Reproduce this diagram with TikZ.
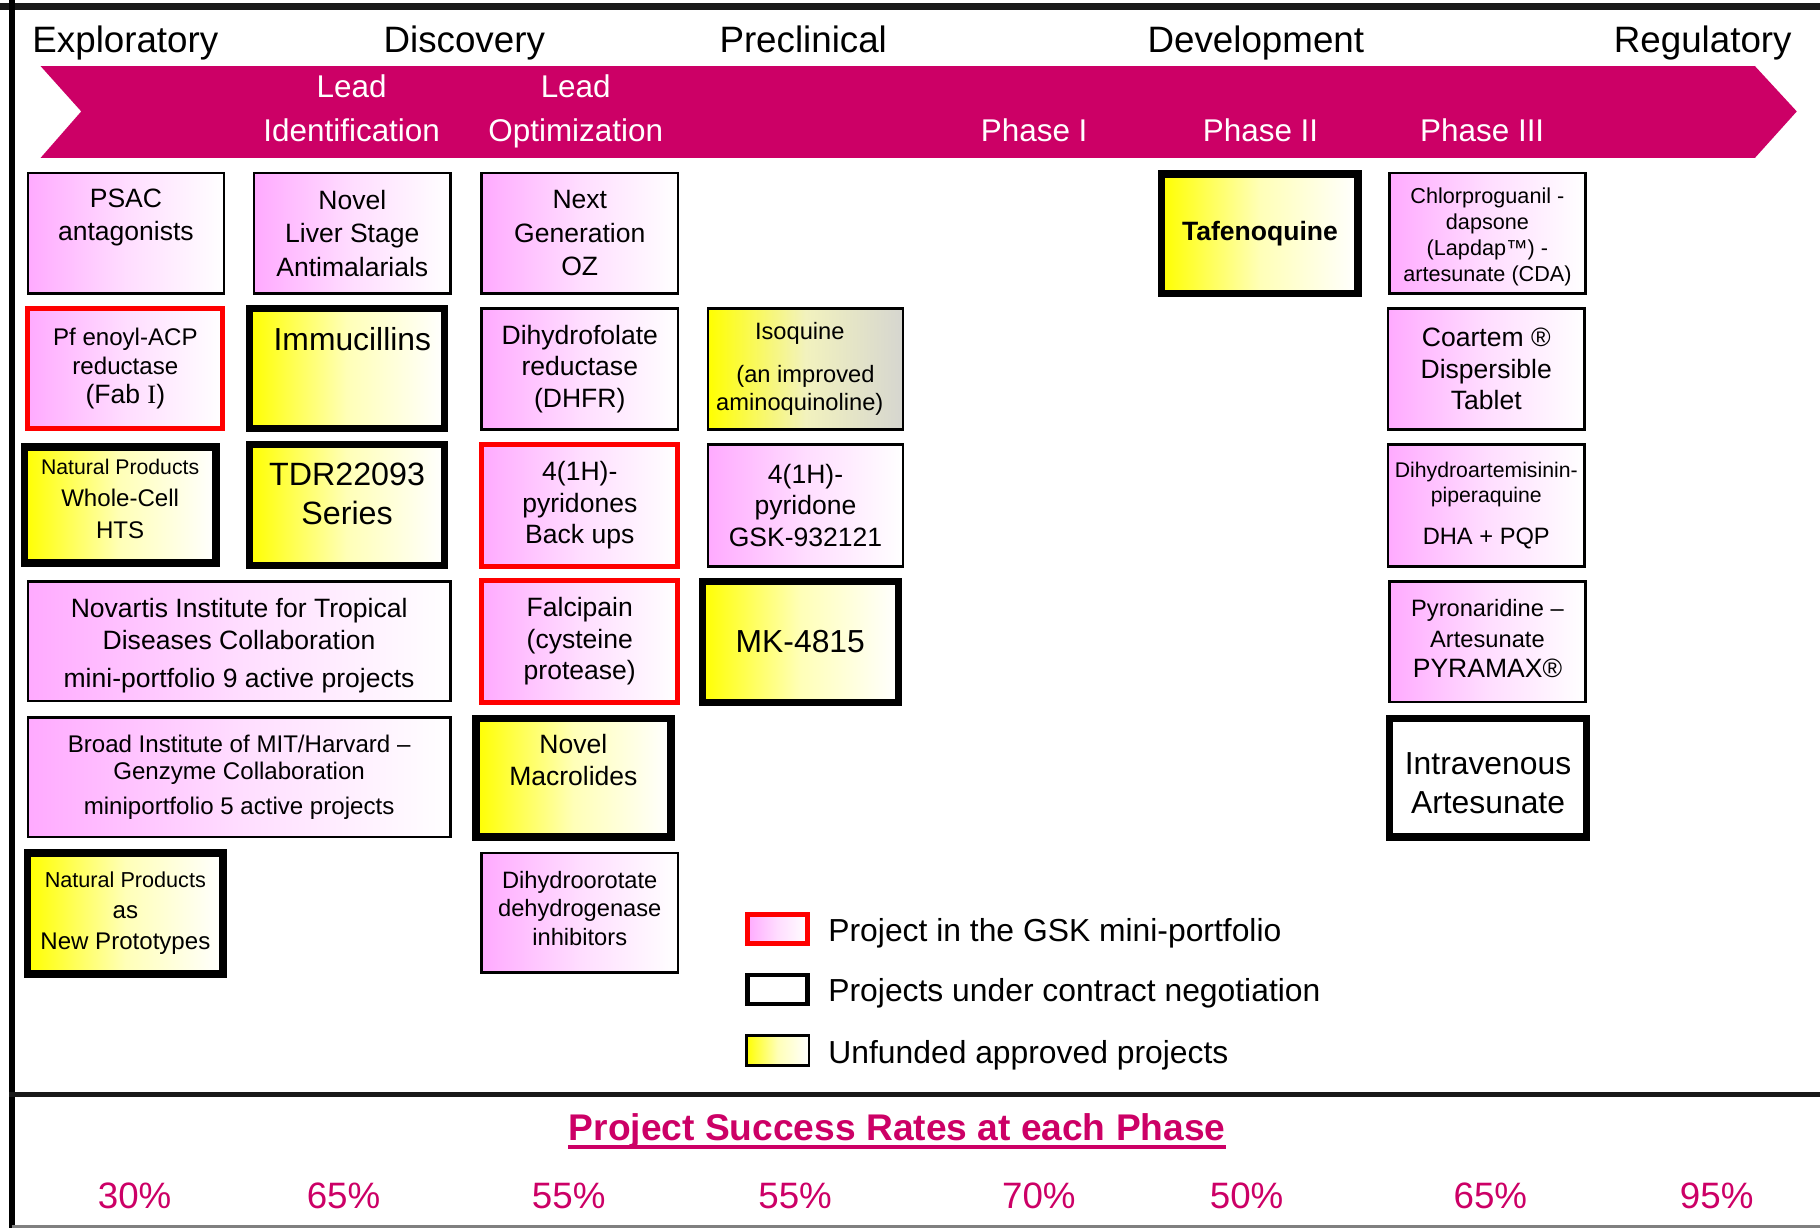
\documentclass[tikz,border=0pt]{standalone}
\usepackage{fontspec}
\setmainfont{Liberation Sans}
\newfontfamily\timesfont{Liberation Serif}
\definecolor{chevmag}{RGB}{204,0,102}
\definecolor{boxpink}{RGB}{255,170,255}
\definecolor{boxyellow}{RGB}{255,255,0}
\definecolor{isomid}{RGB}{242,242,190}
\definecolor{isogray}{RGB}{214,214,208}
\definecolor{gskred}{RGB}{255,0,0}
\newcommand{\setfs}[2]{\fontsize{#1}{#2}\selectfont}
\tikzset{
  projbox/.style={draw, line width=0.6pt, align=center, inner sep=0pt,
    minimum width=1.69cm, minimum height=1.04cm},
  pinkfill/.style={left color=boxpink, right color=white, middle color=boxpink!40!white},
  yellowfill/.style={left color=boxyellow, right color=white, middle color=boxyellow!28!white},
  gskline/.style={draw=gskred, line width=1.2pt},
  negline/.style={draw=black, line width=1.8pt},
  phasetext/.style={inner sep=0pt, anchor=base, font=\setfs{9}{11}},
  chevtext/.style={inner sep=0pt, text=white, font=\setfs{7.7}{10.8}},
  ratetext/.style={inner sep=0pt, text=chevmag, font=\setfs{9}{11}},
  legtext/.style={inner sep=0pt, anchor=base west, font=\setfs{7.8}{9}}
}
\begin{document}
\begin{tikzpicture}[x=0.01cm, y=-0.01cm]
\useasboundingbox (0,0) rectangle (1568,1058);
% frame
\draw[line width=1.8pt, black!90] (0,5.5) -- (1568,5.5);
\draw[line width=1.5pt] (10,0) -- (10,1058);
\draw[line width=1.3pt, black!90] (8,943) -- (1568,943);
\draw[line width=0.6pt, gray] (10,1056.5) -- (1568,1056.5);

% stage headings
\node[phasetext] (explo) at (108,45) {Exploratory};
\node[phasetext] (disco) at (400,45) {Discovery};
\node[phasetext] (precl) at (692,45) {Preclinical};
\node[phasetext] (devel) at (1082,45) {Development};
\node[phasetext] (regul) at (1467,45) {Regulatory};

% chevron
\fill[chevmag] (35,57) -- (1512,57) -- (1548,96) -- (1512,136) -- (35,136) -- (70,96) -- cycle;
\node[chevtext, align=center] (leadid) at (303,93) {Lead\\Identification};
\node[chevtext, align=center] (leadopt) at (496,96) {Lead\\Optimization};
\node[chevtext, anchor=base] (ph1) at (891,122) {Phase I};
\node[chevtext, anchor=base] (ph2) at (1086,122) {Phase II};
\node[chevtext, anchor=base] (ph3) at (1277,122) {Phase III};

% exploratory column
\node[projbox, pinkfill, font=\setfs{6.5}{8}, text depth=9pt] (psac) at (108.5,201) {PSAC\\antagonists};
\node[projbox, gskline, pinkfill, minimum width=1.68cm, minimum height=1.03cm,
      font=\setfs{5.9}{7.1}] (fabi) at (108,317.5) {Pf enoyl-ACP\\reductase\\{\setfs{6.5}{7.1}(Fab {\timesfont I})}};
\node[projbox, negline, yellowfill, minimum width=1.65cm, minimum height=1.0cm,
      font=\setfs{5.9}{7.8}, text depth=3pt] (npwc) at (103.5,435) {{\setfs{5.2}{7.8}Natural Products}\\Whole-Cell\\HTS};
\node[projbox, pinkfill, minimum width=3.64cm, minimum height=1.03cm,
      font=\setfs{6.5}{7.7}, text height=24pt] (novartis) at (206,552.5) {Novartis Institute for Tropical\\Diseases Collaboration\\[1.7pt]mini-portfolio 9 active projects};
\node[projbox, pinkfill, minimum width=3.64cm, minimum height=1.03cm,
      font=\setfs{5.9}{6.8}] (broad) at (206,669.5) {Broad Institute of MIT/Harvard –\\Genzyme Collaboration\\[1.7pt]miniportfolio 5 active projects};
\node[projbox, negline, yellowfill, minimum width=1.68cm,
      font=\setfs{5.9}{7.6}] (npnp) at (108,787) {{\setfs{5.3}{7.6}Natural Products}\\as\\New Prototypes};

% lead identification column
\node[projbox, pinkfill, font=\setfs{6.5}{8.2}] (liver) at (303.5,201) {Novel\\Liver Stage\\Antimalarials};
\node[projbox, negline, yellowfill, minimum width=1.68cm, minimum height=1.03cm,
      font=\setfs{7.8}{9}, text depth=14.5pt] (immu) at (299,317.5) {\hspace*{2.6pt}Immucillins};
\node[projbox, negline, yellowfill, minimum width=1.68cm,
      font=\setfs{7.9}{9.4}, text depth=5.4pt] (tdr) at (299,435) {TDR22093\\Series};

% lead optimization column
\node[projbox, pinkfill, font=\setfs{6.5}{8.2}] (ozbox) at (499.5,201) {Next\\Generation\\OZ};
\node[projbox, pinkfill, font=\setfs{6.5}{7.7}] (dhfr) at (499.5,318) {Dihydrofolate\\reductase\\(DHFR)};
\node[projbox, gskline, pinkfill, minimum height=1.05cm,
      font=\setfs{6.5}{7.7}] (pyrid) at (499.5,435.5) {4(1H)-\\pyridones\\Back ups};
\node[projbox, gskline, pinkfill, minimum height=1.05cm,
      font=\setfs{6.5}{7.8}] (falci) at (499.5,552.5) {Falcipain\\(cysteine\\protease)};
\node[projbox, negline, yellowfill, minimum width=1.68cm, minimum height=1.02cm,
      font=\setfs{6.5}{7.7}, text depth=8.8pt] (macro) at (494,670) {Novel\\Macrolides};
\node[projbox, pinkfill, minimum height=1.03cm,
      font=\setfs{5.8}{7}, text depth=2.3pt] (dhodh) at (499.5,786.5) {Dihydroorotate\\dehydrogenase\\inhibitors};

% preclinical column
\node[projbox, left color=boxyellow, right color=isogray, middle color=isomid, minimum width=1.68cm,
      font=\setfs{5.8}{6.8}] (isoq) at (694,318) {Isoquine\hspace*{2.8pt}\\[3.7pt](an improved\hspace*{2.8pt}\\aminoquinoline)\hspace*{2.8pt}};
\node[projbox, pinkfill, minimum width=1.68cm, minimum height=1.05cm,
      font=\setfs{6.5}{7.7}] (gsk) at (694,435.5) {4(1H)-\\pyridone\\GSK-932121};
\node[projbox, negline, yellowfill, font=\setfs{7.8}{9}] (mk) at (689.5,553) {MK-4815};

% phase II / phase III columns
\node[projbox, negline, yellowfill, minimum height=1.03cm,
      font=\setfs{6.5}{8}\bfseries] (tafe) at (1085.5,201.5) {Tafenoquine};
\node[projbox, pinkfill, font=\setfs{5.3}{6.3}, text height=24.5pt] (cda) at (1281.5,201) {Chlorproguanil -\\dapsone\\(Lapdap™) -\\artesunate (CDA)};
\node[projbox, pinkfill, font=\setfs{6.5}{7.7}] (coart) at (1280.5,318) {Coartem ®\\Dispersible\\Tablet};
\node[projbox, pinkfill, minimum height=1.05cm,
      font=\setfs{5.2}{6.3}] (dha) at (1280.5,435.5) {Dihydroartemisinin-\\piperaquine\\[4pt]{\setfs{5.8}{6.3}DHA + PQP}};
\node[projbox, pinkfill, font=\setfs{5.8}{7.5}, text depth=1.5pt] (pyram) at (1281.5,553) {Pyronaridine –\\Artesunate\\{\setfs{6.5}{7.5}PYRAMAX®}};
\node[projbox, negline, fill=white, minimum width=1.7cm, minimum height=1.02cm,
      font=\setfs{7.8}{9.4}, text height=17.4pt] (ivas) at (1282,670) {Intravenous\\Artesunate};

% legend
\node[projbox, gskline, pinkfill, minimum width=0.52cm, minimum height=0.25cm] (leggsk) at (670,800.5) {};
\node[projbox, draw=black, line width=1.2pt, fill=white, minimum width=0.52cm, minimum height=0.25cm] (legneg) at (670,852.5) {};
\node[projbox, yellowfill, minimum width=0.54cm, minimum height=0.26cm] (legfund) at (670,905) {};
\node[legtext] (leggsk-t) at (713,811) {Project in the GSK mini-portfolio};
\node[legtext] (legneg-t) at (713,863) {Projects under contract negotiation};
\node[legtext] (legfund-t) at (713,916) {Unfunded approved projects};

% success rates
\node[inner sep=0pt, anchor=base, text=chevmag, font=\setfs{9.1}{11}\bfseries] (rates) at (773,983) {Project Success Rates at each Phase};
\draw[chevmag, line width=1.1pt] ([yshift=-1.5pt]rates.base west) -- ([yshift=-1.5pt]rates.base east);
\node[ratetext] (r1) at (116,1030) {30\%};
\node[ratetext] (r2) at (296,1030) {65\%};
\node[ratetext] (r3) at (490,1030) {55\%};
\node[ratetext] (r4) at (685,1030) {55\%};
\node[ratetext] (r5) at (895,1030) {70\%};
\node[ratetext] (r6) at (1074,1030) {50\%};
\node[ratetext] (r7) at (1284,1030) {65\%};
\node[ratetext] (r8) at (1479,1030) {95\%};
\end{tikzpicture}
\end{document}
